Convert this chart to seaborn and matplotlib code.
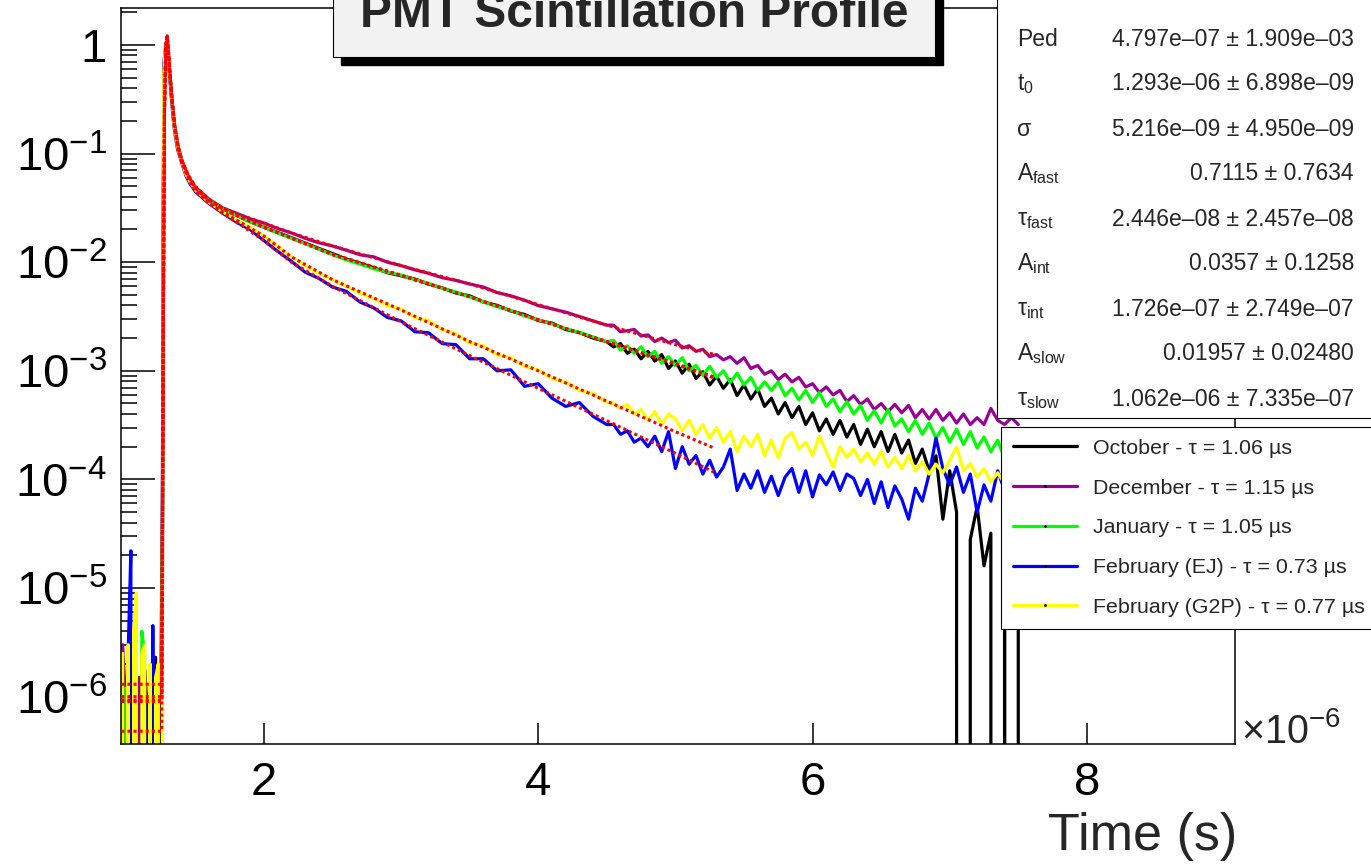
import numpy as np
import pandas as pd
import matplotlib
matplotlib.use("Agg")
import matplotlib.pyplot as plt
from matplotlib.patches import Rectangle
from matplotlib.lines import Line2D
from matplotlib.ticker import FixedLocator, FuncFormatter, LogLocator, NullFormatter, NullLocator
import seaborn as sns

# ---------------- data (time in microseconds) ----------------
t_pre = [0.97, 0.99, 1.01, 1.03, 1.05, 1.07, 1.09, 1.11, 1.13, 1.15, 1.17, 1.19, 1.21, 1.23, 1.25]
t_peak = [1.26, 1.27, 1.28, 1.29, 1.30, 1.31, 1.32, 1.33, 1.34, 1.35, 1.37, 1.40, 1.43, 1.46]
t_mid = [round(v, 2) for v in np.arange(1.5, 4.51, 0.1)]
t_tail = [round(v, 2) for v in np.arange(4.55, 7.501, 0.05)]
time_us = t_pre + t_peak + t_mid + t_tail

oct_pre = [8e-7, 0, 1.2e-6, 0, 7e-7, 0, 1.0e-6, 0, 1.5e-6, 0, 9e-7, 2.0e-6, 2.3e-6, 0, 1.0e-6]
oct_peak = [2.0e-5, 0.42, 0.85, 1.00, 0.85, 0.60, 0.42, 0.30, 0.22, 0.17, 0.12, 0.087, 0.067, 0.057]
oct_mid = [4.8e-2, 3.7e-2, 3.05e-2, 2.7e-2, 2.36e-2, 2.1e-2, 1.88e-2, 1.68e-2, 1.5e-2, 1.34e-2,
           1.2e-2, 1.07e-2, 9.8e-3, 8.9e-3, 8.0e-3, 7.5e-3, 7.0e-3, 6.3e-3, 5.8e-3, 5.2e-3,
           4.9e-3, 4.3e-3, 4.0e-3, 3.55e-3, 3.3e-3, 2.9e-3, 2.75e-3, 2.4e-3, 2.25e-3, 2.0e-3, 1.85e-3]
oct_tail = [1.66e-3, 1.78e-3, 1.45e-3, 1.58e-3, 1.29e-3, 1.51e-3, 1.23e-3, 1.41e-3, 1.05e-3, 1.23e-3,
            9.5e-4, 1.15e-3, 8.5e-4, 9.8e-4, 7.4e-4, 8.9e-4, 6.9e-4, 8.3e-4, 5.9e-4, 7.4e-4,
            5.5e-4, 6.8e-4, 4.7e-4, 5.6e-4, 4.0e-4, 5.1e-4, 3.7e-4, 4.7e-4, 3.2e-4, 4.1e-4,
            2.8e-4, 3.6e-4, 2.6e-4, 3.5e-4, 2.45e-4, 3.2e-4, 2.1e-4, 2.9e-4, 2.0e-4, 2.75e-4,
            1.8e-4, 2.6e-4, 1.75e-4, 2.3e-4, 1.4e-4, 1.9e-4, 1.2e-4, 1.65e-4, 4.3e-5, 1.2e-4,
            5.0e-5, 0, 2.8e-5, 5.6e-5, 1.6e-5, 3.2e-5, 0, 6.3e-5, 0, 8e-5]

dec_pre = [3.0e-6, 1.0e-6, 0, 2.0e-6, 6e-7, 0, 1.5e-6, 0, 1.8e-6, 8e-7, 0, 1.2e-6, 0, 1.0e-6, 2.0e-6]
dec_peak = [1.3e-4, 0.45, 0.85, 1.00, 0.85, 0.60, 0.42, 0.30, 0.22, 0.17, 0.12, 0.088, 0.068, 0.058]
dec_mid = [4.9e-2, 3.8e-2, 3.16e-2, 2.82e-2, 2.51e-2, 2.29e-2, 2.04e-2, 1.86e-2, 1.66e-2, 1.51e-2,
           1.41e-2, 1.29e-2, 1.17e-2, 1.12e-2, 1.0e-2, 9.3e-3, 8.5e-3, 7.9e-3, 7.2e-3, 6.8e-3,
           6.3e-3, 5.9e-3, 5.25e-3, 4.9e-3, 4.47e-3, 3.98e-3, 3.72e-3, 3.47e-3, 3.16e-3, 2.88e-3, 2.63e-3]
dec_tail = [2.63e-3, 2.29e-3, 2.34e-3, 2.40e-3, 2.09e-3, 2.14e-3, 1.86e-3, 2.00e-3, 1.82e-3, 1.91e-3,
            1.62e-3, 1.70e-3, 1.51e-3, 1.58e-3, 1.35e-3, 1.41e-3, 1.26e-3, 1.35e-3, 1.17e-3, 1.32e-3,
            1.05e-3, 1.12e-3, 9.3e-4, 1.0e-3, 8.3e-4, 9.3e-4, 7.9e-4, 8.7e-4, 7.1e-4, 7.6e-4,
            6.3e-4, 7.1e-4, 6.0e-4, 6.6e-4, 5.2e-4, 5.9e-4, 4.9e-4, 5.5e-4, 4.4e-4, 5.0e-4,
            4.2e-4, 4.9e-4, 4.1e-4, 4.8e-4, 3.7e-4, 4.4e-4, 3.6e-4, 4.4e-4, 3.5e-4, 4.1e-4,
            3.3e-4, 4.0e-4, 3.2e-4, 3.7e-4, 3.2e-4, 4.5e-4, 3.5e-4, 3.2e-4, 3.7e-4, 3.2e-4]

jan_pre = [0, 1.2e-6, 6e-7, 0, 1.5e-6, 2.0e-6, 0, 4.0e-6, 2.5e-6, 0, 1.6e-6, 1.0e-6, 0, 1.3e-6, 1.8e-6]
jan_peak = [3.6e-5, 0.40, 0.85, 1.02, 0.90, 0.62, 0.44, 0.31, 0.22, 0.17, 0.12, 0.087, 0.067, 0.057]
jan_mid = [4.8e-2, 3.7e-2, 3.1e-2, 2.7e-2, 2.34e-2, 2.09e-2, 1.86e-2, 1.66e-2, 1.48e-2, 1.32e-2,
           1.17e-2, 1.05e-2, 9.6e-3, 8.7e-3, 8.1e-3, 7.6e-3, 6.9e-3, 6.4e-3, 5.75e-3, 5.3e-3,
           4.8e-3, 4.3e-3, 3.9e-3, 3.6e-3, 3.2e-3, 2.95e-3, 2.7e-3, 2.45e-3, 2.25e-3, 2.05e-3, 1.85e-3]
jan_tail = [1.91e-3, 1.55e-3, 1.70e-3, 1.45e-3, 1.66e-3, 1.35e-3, 1.51e-3, 1.17e-3, 1.35e-3, 1.12e-3,
            1.32e-3, 1.0e-3, 1.12e-3, 9.1e-4, 1.10e-3, 8.7e-4, 1.0e-3, 7.8e-4, 9.5e-4, 7.4e-4,
            8.7e-4, 6.6e-4, 7.9e-4, 6.6e-4, 7.9e-4, 5.9e-4, 6.9e-4, 5.4e-4, 6.6e-4, 5.1e-4,
            6.3e-4, 4.7e-4, 5.5e-4, 4.2e-4, 5.2e-4, 4.0e-4, 4.8e-4, 3.5e-4, 4.3e-4, 3.3e-4,
            4.4e-4, 3.1e-4, 3.6e-4, 2.75e-4, 3.5e-4, 2.6e-4, 3.3e-4, 2.4e-4, 3.0e-4, 2.2e-4,
            2.9e-4, 2.1e-4, 2.75e-4, 1.95e-4, 2.45e-4, 1.8e-4, 2.3e-4, 1.55e-4, 2.0e-4, 1.45e-4]

febej_pre = [1.5e-6, 0, 2.5e-6, 2.2e-5, 0, 1.0e-6, 0, 1.5e-6, 0, 1.0e-6, 0, 4.5e-6, 0, 8e-7, 0]
febej_peak = [8.0e-6, 0.66, 0.90, 1.05, 0.80, 0.58, 0.40, 0.28, 0.20, 0.155, 0.11, 0.083, 0.063, 0.053]
febej_mid = [4.47e-2, 3.47e-2, 2.82e-2, 2.34e-2, 2.0e-2, 1.58e-2, 1.26e-2, 1.02e-2, 8.1e-3, 7.1e-3,
             5.9e-3, 5.4e-3, 4.3e-3, 3.8e-3, 3.1e-3, 2.88e-3, 2.29e-3, 2.24e-3, 1.78e-3, 1.74e-3,
             1.29e-3, 1.29e-3, 1.0e-3, 1.02e-3, 7.2e-4, 7.6e-4, 5.6e-4, 4.7e-4, 5.1e-4, 3.8e-4, 3.2e-4]
febej_tail = [3.2e-4, 2.6e-4, 2.8e-4, 2.2e-4, 2.4e-4, 2.0e-4, 2.5e-4, 1.8e-4, 2.75e-4, 1.26e-4,
              2.0e-4, 1.38e-4, 1.66e-4, 1.12e-4, 1.5e-4, 1.05e-4, 1.3e-4, 1.9e-4, 7.9e-5, 1.12e-4,
              8.3e-5, 1.2e-4, 7.6e-5, 1.07e-4, 7.1e-5, 1.05e-4, 1.26e-4, 7.6e-5, 1.2e-4, 6.9e-5,
              1.1e-4, 8.9e-5, 1.17e-4, 7.9e-5, 1.12e-4, 1.02e-4, 7.1e-5, 1.0e-4, 6.0e-5, 9.5e-5,
              5.5e-5, 8.7e-5, 6.6e-5, 4.3e-5, 8.3e-5, 6.3e-5, 1.12e-4, 2.4e-4, 1.26e-4, 8.9e-5,
              1.3e-4, 7.6e-5, 1.12e-4, 5.0e-5, 8.9e-5, 6.3e-5, 1.2e-4, 7.9e-5, 1.12e-4, 8.9e-5]

febg2p_pre = [2.5e-6, 0, 3.0e-6, 0, 4.0e-6, 9.0e-6, 0, 2.5e-6, 3.0e-6, 0, 2.0e-6, 0, 1.5e-6, 2.0e-6, 0]
febg2p_peak = [1.0e-5, 0.55, 0.90, 1.00, 0.85, 0.60, 0.42, 0.30, 0.21, 0.16, 0.115, 0.085, 0.065, 0.055]
febg2p_mid = [4.6e-2, 3.55e-2, 2.9e-2, 2.45e-2, 2.1e-2, 1.74e-2, 1.41e-2, 1.12e-2, 9.3e-3, 7.9e-3,
              6.9e-3, 6.0e-3, 5.2e-3, 4.6e-3, 4.0e-3, 3.7e-3, 3.1e-3, 2.9e-3, 2.4e-3, 2.2e-3,
              1.8e-3, 1.7e-3, 1.4e-3, 1.32e-3, 1.1e-3, 1.02e-3, 8.5e-4, 7.9e-4, 6.6e-4, 6.2e-4, 5.1e-4]
febg2p_tail = [5.0e-4, 4.5e-4, 4.9e-4, 4.0e-4, 4.4e-4, 3.5e-4, 4.2e-4, 3.2e-4, 4.0e-4, 3.6e-4,
               2.8e-4, 3.5e-4, 2.6e-4, 3.2e-4, 2.4e-4, 3.0e-4, 2.2e-4, 2.75e-4, 1.8e-4, 2.5e-4,
               2.0e-4, 2.6e-4, 1.66e-4, 2.3e-4, 1.58e-4, 2.4e-4, 2.7e-4, 1.9e-4, 2.2e-4, 1.66e-4,
               2.5e-4, 1.8e-4, 1.3e-4, 2.0e-4, 1.6e-4, 1.9e-4, 1.45e-4, 1.75e-4, 1.38e-4, 1.8e-4,
               1.3e-4, 1.6e-4, 1.26e-4, 1.66e-4, 1.2e-4, 1.45e-4, 1.12e-4, 1.38e-4, 1.15e-4, 1.5e-4,
               2.0e-4, 1.2e-4, 1.4e-4, 1.05e-4, 1.26e-4, 9.5e-5, 1.15e-4, 9.1e-5, 1.1e-4, 8.9e-5]

october = oct_pre + oct_peak + oct_mid + oct_tail
december = dec_pre + dec_peak + dec_mid + dec_tail
january = jan_pre + jan_peak + jan_mid + jan_tail
feb_ej = febej_pre + febej_peak + febej_mid + febej_tail
feb_g2p = febg2p_pre + febg2p_peak + febg2p_mid + febg2p_tail

# fit curves (red dashed)
t_fit = [0.96, 1.255, 1.265, 1.275, 1.285, 1.295, 1.305, 1.315, 1.33, 1.35, 1.375, 1.40, 1.45,
         1.5, 1.6, 1.7, 1.8, 2.0, 2.2, 2.5, 3.0, 3.5, 4.0, 4.5, 5.0, 5.28]
fit_oct = [4.8e-7, 4.8e-7, 1.0e-3, 0.25, 1.0, 1.21, 0.85, 0.55, 0.32, 0.18, 0.115, 0.087, 0.062,
           0.049, 0.037, 0.031, 0.027, 0.021, 0.0168, 0.0119, 7.5e-3, 4.8e-3, 2.95e-3, 1.85e-3, 1.15e-3, 8.6e-4]
fit_dec = [1.3e-6, 1.3e-6, 1.0e-3, 0.25, 1.0, 1.21, 0.85, 0.55, 0.32, 0.18, 0.116, 0.088, 0.063,
           0.050, 0.038, 0.0316, 0.028, 0.0229, 0.0186, 0.0141, 9.3e-3, 6.3e-3, 4.07e-3, 2.63e-3, 1.74e-3, 1.42e-3]
fit_jan = [9.3e-7, 9.3e-7, 1.0e-3, 0.25, 1.0, 1.21, 0.85, 0.55, 0.32, 0.18, 0.115, 0.087, 0.062,
           0.048, 0.037, 0.031, 0.027, 0.0209, 0.0166, 0.0117, 7.6e-3, 4.8e-3, 2.95e-3, 1.86e-3, 1.17e-3, 8.8e-4]
fit_febej = [9.0e-7, 9.0e-7, 1.0e-3, 0.25, 1.0, 1.21, 0.82, 0.52, 0.30, 0.165, 0.108, 0.083, 0.058,
             0.045, 0.0347, 0.0282, 0.0234, 0.0158, 0.0100, 6.0e-3, 2.82e-3, 1.38e-3, 6.9e-4, 3.47e-4, 1.74e-4, 1.17e-4]
fit_febg2p = [1.0e-6, 1.0e-6, 1.0e-3, 0.25, 1.0, 1.21, 0.84, 0.54, 0.31, 0.17, 0.112, 0.085, 0.060,
              0.046, 0.0355, 0.029, 0.0245, 0.0174, 0.0112, 6.9e-3, 3.63e-3, 1.86e-3, 1.0e-3, 5.25e-4, 2.75e-4, 1.95e-4]

series_names = ["October", "December", "January", "February (EJ)", "February (G2P)"]
series_tau = ["1.06", "1.15", "1.05", "0.73", "0.77"]
series_colors = ["#000000", "#990099", "#00ff00", "#0000ff", "#ffff00"]
series_values = [october, december, january, feb_ej, feb_g2p]
fit_values = [fit_oct, fit_dec, fit_jan, fit_febej, fit_febg2p]

stat_labels = ["Prob", "Ped", "t$_0$", "σ", "A$_{fast}$", "τ$_{fast}$", "A$_{int}$",
               "τ$_{int}$", "A$_{slow}$", "τ$_{slow}$"]
stat_values = ["1", "4.797e–07 ± 1.909e–03", "1.293e–06 ± 6.898e–09", "5.216e–09 ± 4.950e–09",
               "0.7115 ± 0.7634", "2.446e–08 ± 2.457e–08", "0.0357 ± 0.1258",
               "1.726e–07 ± 2.749e–07", "0.01957 ± 0.02480", "1.062e–06 ± 7.335e–07"]

# ---------------- style ----------------
sns.set_style("white")
plt.rcParams["font.family"] = ["Liberation Sans", "DejaVu Sans"]
plt.rcParams["mathtext.fontset"] = "custom"
plt.rcParams["mathtext.rm"] = "Liberation Sans"
plt.rcParams["mathtext.it"] = "Liberation Sans:italic"
plt.rcParams["mathtext.bf"] = "Liberation Sans:bold"
plt.rcParams["mathtext.default"] = "regular"

W, H = 1371, 866
fig = plt.figure(figsize=(W / 100, H / 100), dpi=100)
fig.patch.set_facecolor("white")


def fx(x):
    return x / W


def fy(y):
    return 1 - y / H


ax = fig.add_axes([fx(121), fy(744), (1235 - 121) / W, (744 - 8) / H])

for vals, col in zip(series_values, series_colors):
    df = pd.DataFrame({"time": time_us, "value": vals})
    sns.lineplot(data=df, x="time", y="value", ax=ax, color=col, linewidth=2.3,
                 estimator=None, sort=False, legend=False, zorder=2)

for fv in fit_values:
    dff = pd.DataFrame({"time": t_fit, "value": fv})
    sns.lineplot(data=dff, x="time", y="value", ax=ax, color="#ff0000", linewidth=2.2,
                 linestyle=(0, (1.0, 1.0)), estimator=None, sort=False, legend=False, zorder=3)

ax.set_yscale("log", nonpositive="clip")
ax.set_xlim(0.958, 9.08)
ax.set_ylim(3.66e-7, 2.19)
ax.set_xlabel("")
ax.set_ylabel("")

ax.yaxis.set_major_locator(LogLocator(base=10, numticks=20))
ax.yaxis.set_minor_locator(LogLocator(base=10, subs=np.arange(2, 10), numticks=20))
ax.yaxis.set_minor_formatter(NullFormatter())


def yfmt(v, pos):
    e = int(round(np.log10(v)))
    return "1" if e == 0 else "10$^{%d}$" % e


ax.yaxis.set_major_formatter(FuncFormatter(yfmt))
ax.xaxis.set_major_locator(FixedLocator([2, 4, 6, 8]))
ax.xaxis.set_minor_locator(NullLocator())
ax.xaxis.set_major_formatter(FuncFormatter(lambda v, p: "%d" % round(v)))

ax.tick_params(axis="y", which="major", direction="in", length=24.5, width=1.1,
               labelsize=34, pad=10, colors="black", left=True, right=False)
ax.tick_params(axis="y", which="minor", direction="in", length=11.5, width=1.1,
               left=True, right=False, colors="black")
ax.tick_params(axis="x", which="major", direction="in", length=15, width=1.1,
               labelsize=34, pad=12, colors="black", bottom=True, top=False)
for s in ax.spines.values():
    s.set_linewidth(1.1)
    s.set_color("black")

# title box with shadow
fig.add_artist(Rectangle((fx(341), fy(65)), (943 - 341) / W, 110 / H, transform=fig.transFigure,
                         facecolor="black", edgecolor="black", zorder=5))
fig.add_artist(Rectangle((fx(333), fy(57)), (935 - 333) / W, 100 / H, transform=fig.transFigure,
                         facecolor="#f2f2f2", edgecolor="black", linewidth=0.8, zorder=6))
fig.text(fx(634), fy(27), "PMT Scintillation Profile", ha="center", va="baseline",
         fontsize=34.5, fontweight="bold", zorder=7)

# stats box
fig.add_artist(Rectangle((fx(997), fy(418)), 420 / W, 480 / H, transform=fig.transFigure,
                         facecolor="white", edgecolor="black", linewidth=0.8, zorder=5))
for i, (lab, val) in enumerate(zip(stat_labels, stat_values)):
    base = 0.5 + 45 * i
    fig.text(fx(1017), fy(base), lab, ha="left", va="baseline", fontsize=16.5, zorder=7)
    fig.text(fx(1354), fy(base), val, ha="right", va="baseline", fontsize=16.5, zorder=7)

# legend
handles = [Line2D([], [], color=c, linewidth=2.3, marker=".", markersize=2,
                  markerfacecolor="black", markeredgecolor="black") for c in series_colors]
labels = ["%s - τ = %s µs" % (n, t) for n, t in zip(series_names, series_tau)]
leg = fig.legend(handles, labels, loc="upper left",
                 bbox_to_anchor=(fx(1001), fy(427), 420 / W, 0.0), mode="expand",
                 borderaxespad=0, fontsize=15.4, frameon=True, fancybox=False, shadow=False,
                 framealpha=1, edgecolor="black", borderpad=0.55, handlelength=3.0,
                 handletextpad=0.75, labelspacing=0.97, numpoints=1)
leg.get_frame().set_linewidth(0.8)
leg.set_zorder(8)

# axis title and multiplier
fig.text(fx(1237), fy(850), "Time (s)", ha="right", va="baseline", fontsize=37.5)
fig.text(fx(1241), fy(743), "×10$^{-6}$", ha="left", va="baseline", fontsize=28.5)

fig.savefig("out.png", dpi=100)
